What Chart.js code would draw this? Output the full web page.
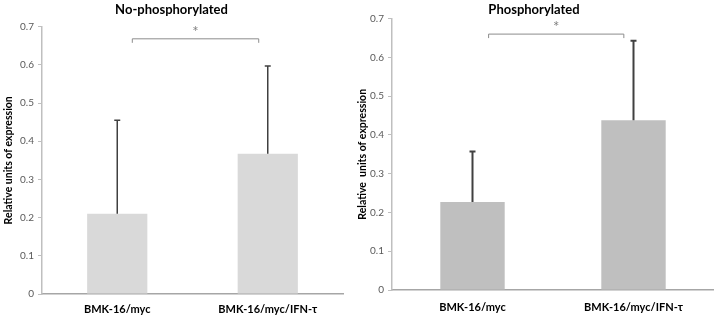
<!DOCTYPE html>
<html>
<head>
<meta charset="utf-8">
<script src="https://cdn.jsdelivr.net/npm/chart.js@4.4.1/dist/chart.umd.min.js"></script>
<style>
    body { margin: 0; background: #fff; }
    .panel { position: absolute; top: 0; height: 320px; }
    #left { left: 0; width: 354px; }
    #right { left: 354px; width: 360px; }
</style>
</head>
<body>
<div class="panel" id="left"><canvas id="noPhosChart"></canvas></div>
<div class="panel" id="right"><canvas id="phosChart"></canvas></div>
<script>
const categories = ['BMK-16/myc', 'BMK-16/myc/IFN-τ'];
const noPhosValues = [0.21, 0.367];
const noPhosErrors = [0.245, 0.23];
const phosValues = [0.227, 0.438];
const phosErrors = [0.13, 0.205];
const yMax = 0.7;
const yStep = 0.1;
const noPhosBracket = 0.668;
const phosBracket = 0.66;

const FONT = 'Lato, "Noto Sans", sans-serif';

// error bars (upper only) + significance bracket
const annotations = {
    id: 'annotations',
    afterDatasetsDraw(chart, args, opts) {
        const ctx = chart.ctx;
        const x = chart.scales.x;
        const y = chart.scales.y;
        const data = chart.data.datasets[0].data;

        ctx.save();
        ctx.strokeStyle = '#404040';
        ctx.lineWidth = opts.errWidth;
        opts.errors.forEach((err, i) => {
            const cx = x.getPixelForValue(i);
            const top = y.getPixelForValue(data[i] + err);
            ctx.beginPath();
            ctx.moveTo(cx, y.getPixelForValue(data[i]));
            ctx.lineTo(cx, top);
            ctx.moveTo(cx - 3, top);
            ctx.lineTo(cx + 3, top);
            ctx.stroke();
        });

        const step = x.getPixelForValue(1) - x.getPixelForValue(0);
        const x1 = x.getPixelForValue(0) + step * 0.1;
        const x2 = x.getPixelForValue(1) - step * 0.06;
        const by = y.getPixelForValue(opts.bracket);
        ctx.strokeStyle = '#8c8c8c';
        ctx.lineWidth = 1;
        ctx.beginPath();
        ctx.moveTo(x1, by + 4);
        ctx.lineTo(x1, by);
        ctx.lineTo(x2, by);
        ctx.lineTo(x2, by + 4);
        ctx.stroke();

        ctx.fillStyle = '#7f7f7f';
        ctx.font = '15px ' + FONT;
        ctx.textAlign = 'center';
        ctx.textBaseline = 'middle';
        ctx.fillText('*', (x1 + x2) / 2, by - 7);
        ctx.restore();
    }
};

function makeChart(id, title, yTitle, values, errors, color, bracket, opt) {
    return new Chart(document.getElementById(id), {
        type: 'bar',
        data: {
            labels: categories,
            datasets: [{
                data: values,
                backgroundColor: color,
                barPercentage: 0.4,
                categoryPercentage: 1.0
            }]
        },
        options: {
            responsive: true,
            maintainAspectRatio: false,
            animation: false,
            layout: { padding: { left: 0, right: opt.padRight, bottom: 0, top: 0 } },
            plugins: {
                legend: { display: false },
                tooltip: { enabled: false },
                title: {
                    display: true,
                    text: title,
                    color: '#000',
                    font: { family: FONT, size: 13, weight: 'bold' },
                    padding: { top: 2, bottom: opt.titleGap }
                },
                annotations: { errors: errors, bracket: bracket, errWidth: opt.errWidth }
            },
            scales: {
                x: {
                    afterFit: s => { s.height = opt.xHeight; },
                    grid: { display: false },
                    border: { color: '#a6a6a6', width: 1.5 },
                    ticks: {
                        color: '#000',
                        padding: opt.xPad,
                        font: { family: FONT, size: 11, weight: 'bold' }
                    }
                },
                y: {
                    min: 0,
                    max: yMax,
                    afterFit: s => { s.width = opt.axisX; },
                    grid: {
                        display: true,
                        drawOnChartArea: false,
                        tickLength: 4,
                        color: '#bfbfbf'
                    },
                    border: { color: '#bfbfbf', width: 1.5 },
                    ticks: {
                        stepSize: yStep,
                        color: '#595959',
                        padding: 4,
                        font: { family: FONT, size: 10 }
                    },
                    title: {
                        display: true,
                        text: yTitle,
                        color: '#000',
                        padding: { top: 2, bottom: 0 },
                        font: { family: FONT, size: 10.5, weight: 'bold' }
                    }
                }
            }
        },
        plugins: [annotations]
    });
}

makeChart('noPhosChart', 'No-phosphorylated', 'Relative units of expression',
    noPhosValues, noPhosErrors, '#d9d9d9', noPhosBracket,
    { padRight: 11, axisX: 42, titleGap: 9, errWidth: 1.5, xHeight: 26, xPad: 1 });

makeChart('phosChart', 'Phosphorylated', 'Relative  units of expression',
    phosValues, phosErrors, '#bfbfbf', phosBracket,
    { padRight: 0, axisX: 38, titleGap: 1, errWidth: 2, xHeight: 30, xPad: 3 });
</script>
</body>
</html>
